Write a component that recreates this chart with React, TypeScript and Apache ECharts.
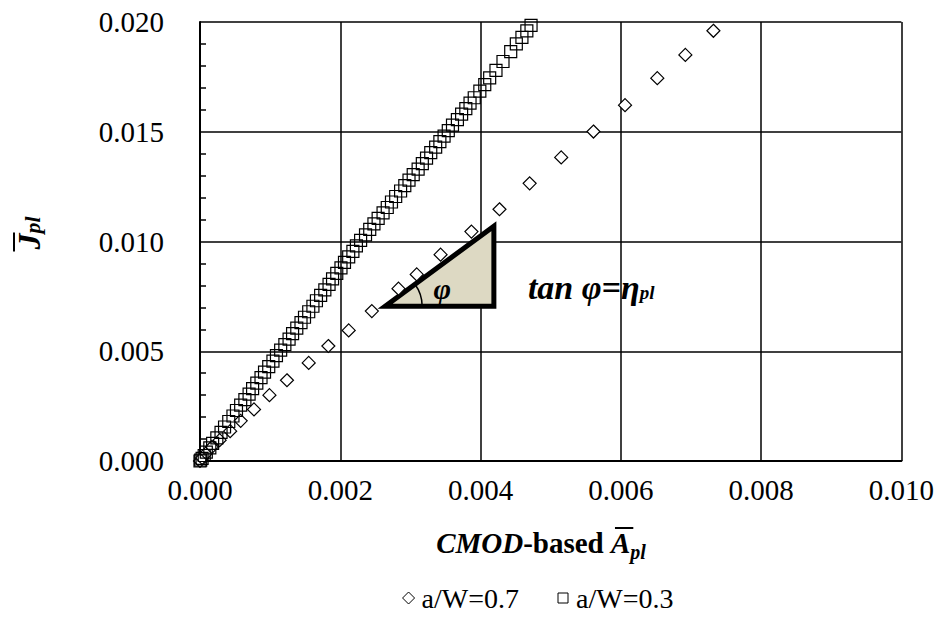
import React, { useEffect, useRef } from "react";
import * as echarts from "echarts";

// values in thousandths (×1e-3)
const diamondX = [0, 0.03, 0.09, 0.17, 0.28, 0.43, 0.58, 0.77, 0.99, 1.24, 1.55, 1.83, 2.12, 2.45, 2.83, 3.09, 3.43, 3.87, 4.27, 4.70, 5.15, 5.61, 6.06, 6.52, 6.92, 7.32];
const diamondY = [0, 0.14, 0.36, 0.64, 0.95, 1.36, 1.83, 2.35, 3.0, 3.68, 4.47, 5.24, 5.95, 6.83, 7.85, 8.5, 9.4, 10.45, 11.47, 12.65, 13.83, 15.01, 16.21, 17.44, 18.5, 19.6];

const squareX = [4.72, 4.66, 4.59, 4.51, 4.43, 4.32, 4.22, 4.13, 4.06, 3.99, 3.91, 3.85, 3.79, 3.73, 3.67, 3.60, 3.54, 3.48, 3.42, 3.36, 3.29, 3.23, 3.17, 3.11, 3.04, 2.98, 2.92, 2.86, 2.79, 2.73, 2.67, 2.61, 2.54, 2.48, 2.42, 2.36, 2.29, 2.23, 2.18, 2.12, 2.06, 2.01, 1.95, 1.89, 1.84, 1.78, 1.72, 1.66, 1.61, 1.55, 1.49, 1.44, 1.38, 1.32, 1.27, 1.21, 1.15, 1.09, 1.04, 0.98, 0.92, 0.87, 0.81, 0.75, 0.70, 0.64, 0.58, 0.52, 0.47, 0.41, 0.35, 0.30, 0.24, 0.18, 0.14, 0.09, 0.06, 0.03, 0.01, 0];
const squareY = [19.85, 19.6, 19.3, 19.0, 18.65, 18.2, 17.8, 17.45, 17.15, 16.85, 16.55, 16.3, 16.05, 15.8, 15.55, 15.3, 15.05, 14.8, 14.55, 14.3, 14.05, 13.8, 13.55, 13.3, 13.05, 12.8, 12.55, 12.3, 12.05, 11.8, 11.55, 11.3, 11.05, 10.8, 10.55, 10.3, 10.05, 9.8, 9.55, 9.3, 9.05, 8.8, 8.55, 8.3, 8.05, 7.8, 7.55, 7.3, 7.05, 6.8, 6.55, 6.3, 6.05, 5.8, 5.55, 5.3, 5.05, 4.8, 4.55, 4.3, 4.05, 3.8, 3.55, 3.3, 3.05, 2.8, 2.55, 2.3, 2.05, 1.8, 1.55, 1.3, 1.05, 0.8, 0.6, 0.4, 0.25, 0.12, 0.04, 0];

// slope triangle annotation: [left-bottom x, bottom y, right x, top y] (thousandths)
const triangle = [2.64, 7.05, 4.19, 10.7];

const seriesNames = ["a/W=0.7", "a/W=0.3"];
const xTickStep = 0.002;
const yTickStep = 0.005;

const SERIF = "Liberation Serif";

export default function App() {
  const ref = useRef<HTMLDivElement>(null);
  useEffect(() => {
    if (!ref.current) return;
    document.body.style.margin = "0";
    const ctx = document.createElement("canvas").getContext("2d") as CanvasRenderingContext2D;
    const measure = (text: string, size: number, italic: boolean, bold = true) => {
      ctx.font = `${italic ? "italic " : ""}${bold ? "bold " : ""}${size}px ${SERIF}`;
      return ctx.measureText(text).width;
    };
    const txt = (x: number, y: number, text: string, size: number, italic: boolean, align = "left", bold = true) => ({
      type: "text",
      x,
      y,
      silent: true,
      style: {
        text,
        fontFamily: SERIF,
        fontSize: size,
        fontWeight: bold ? "bold" : "normal",
        fontStyle: italic ? "italic" : "normal",
        fill: "#000",
        textAlign: align,
        textVerticalAlign: "middle",
      },
    });

    const chart = echarts.init(ref.current, undefined, { renderer: "svg" });

    const k = 1e-3;
    const dData = diamondX.map((x, i) => [x * k, diamondY[i] * k]);
    const sData = squareX.map((x, i) => [x * k, squareY[i] * k]);

    chart.setOption({
      animation: false,
      textStyle: { fontFamily: SERIF },
      grid: { left: 200, right: 35, top: 22, bottom: 167, containLabel: false },
      xAxis: {
        type: "value",
        min: 0,
        max: 0.01,
        interval: xTickStep,
        axisLine: { show: true, onZero: false, lineStyle: { color: "#000", width: 2 } },
        axisTick: { show: false },
        axisLabel: { color: "#000", fontFamily: SERIF, fontSize: 29, margin: 14, formatter: (v: number) => v.toFixed(3) },
        splitLine: { show: true, lineStyle: { color: "#000", width: 1.5 } },
      },
      yAxis: {
        type: "value",
        min: 0,
        max: 0.02,
        interval: yTickStep,
        axisLine: { show: true, onZero: false, lineStyle: { color: "#000", width: 2 } },
        axisTick: { show: false, inside: true },
        minorTick: { show: true, splitNumber: 5, length: 6, lineStyle: { color: "#000", width: 1.5 } },
        axisLabel: { color: "#000", fontFamily: SERIF, fontSize: 29, margin: 36, formatter: (v: number) => v.toFixed(3) },
        splitLine: { show: true, lineStyle: { color: "#000", width: 1.5 } },
      },
      series: [
        {
          type: "scatter",
          name: seriesNames[0],
          symbol: "diamond",
          symbolSize: 13,
          z: 3,
          itemStyle: { color: "#fff", borderColor: "#000", borderWidth: 1.2, opacity: 1 },
          data: dData,
        },
        {
          type: "scatter",
          name: seriesNames[1],
          symbol: "rect",
          symbolSize: 12,
          z: 3,
          itemStyle: { color: "rgba(0,0,0,0)", borderColor: "#000", borderWidth: 1.2, opacity: 1 },
          data: sData,
        },
      ],
    });

    // annotation triangle, placed through the grid's own scales
    const toPx = (x: number, y: number) => chart.convertToPixel({ gridIndex: 0 }, [x * k, y * k]) as number[];
    const p0 = toPx(triangle[0], triangle[1]);
    const p1 = toPx(triangle[2], triangle[1]);
    const p2 = toPx(triangle[2], triangle[3]);
    const ang = Math.atan2(p0[1] - p2[1], p2[0] - p0[0]);
    const wTan = measure("tan φ=η", 34, true);
    const tx = p1[0] + 34;
    const ty = p1[1] - 19;

    // x title layout
    const w1 = measure("CMOD", 29, true);
    const w2 = measure("-based ", 29, false);
    const w3 = measure("A", 29, true);
    const w4 = measure("pl", 20, true);
    const xStart = 541 - (w1 + w2 + w3 + w4) / 2;
    const tY = 543;

    // y title layout
    const wJ = measure("J", 32, true);
    const wpl = measure("pl", 22, true);
    const yStart = -(wJ + wpl) / 2;

    // legend layout
    const lw1 = measure(seriesNames[0], 28, false, false);
    const lw2 = measure(seriesNames[1], 28, false, false);
    const icon = 12;
    const gapIT = 7;
    const gapItems = 38;
    const lTotal = icon + gapIT + lw1 + gapItems + icon + gapIT + lw2;
    const lx0 = 538 - lTotal / 2;
    const lx1 = lx0 + icon + gapIT + lw1 + gapItems;
    const lY = 598;

    chart.setOption({
      graphic: [
        {
          type: "polygon",
          z: 1,
          silent: true,
          shape: { points: [p0, p1, p2] },
          style: { fill: "#DDD9C3", stroke: "#000", lineWidth: 5, lineJoin: "miter" },
        },
        {
          type: "arc",
          z: 1,
          silent: true,
          shape: { cx: p0[0], cy: p0[1], r: 37, startAngle: -ang, endAngle: 0, clockwise: true },
          style: { stroke: "#000", fill: "none", lineWidth: 1.5 },
        },
        { ...txt(p0[0] + 57, p0[1] - 18, "φ", 30, true, "center"), z: 1 },
        txt(tx, ty, "tan φ=η", 34, true),
        txt(tx + wTan, ty + 5, "pl", 19, true),
        // x title
        txt(xStart, tY, "CMOD", 29, true),
        txt(xStart + w1, tY, "-based ", 29, false),
        txt(xStart + w1 + w2, tY, "A", 29, true),
        txt(xStart + w1 + w2 + w3, tY + 9, "pl", 20, true),
        {
          type: "line",
          silent: true,
          shape: { x1: xStart + w1 + w2 + 4, y1: tY - 15, x2: xStart + w1 + w2 + w3 + 3, y2: tY - 15 },
          style: { stroke: "#000", lineWidth: 2 },
        },
        // y title
        {
          type: "group",
          x: 29,
          y: 233,
          rotation: Math.PI / 2,
          children: [
            txt(yStart, 0, "J", 32, true),
            txt(yStart + wJ, 3, "pl", 22, true),
            {
              type: "line",
              silent: true,
              shape: { x1: yStart - 2, y1: -15, x2: yStart + wJ + 1, y2: -15 },
              style: { stroke: "#000", lineWidth: 2 },
            },
          ],
        },
        // legend
        {
          type: "polygon",
          silent: true,
          shape: {
            points: [
              [lx0 + icon / 2, lY - icon / 2],
              [lx0 + icon, lY],
              [lx0 + icon / 2, lY + icon / 2],
              [lx0, lY],
            ],
          },
          style: { fill: "#fff", stroke: "#000", lineWidth: 1 },
        },
        txt(lx0 + icon + gapIT, lY, seriesNames[0], 28, false, "left", false),
        {
          type: "rect",
          silent: true,
          shape: { x: lx1 + 1, y: lY - icon / 2 + 1, width: icon - 2, height: icon - 2 },
          style: { fill: "#fff", stroke: "#000", lineWidth: 1 },
        },
        txt(lx1 + icon + gapIT, lY, seriesNames[1], 28, false, "left", false),
      ],
    });
    return () => chart.dispose();
  }, []);
  return <div ref={ref} style={{ width: 937, height: 628 }} />;
}
